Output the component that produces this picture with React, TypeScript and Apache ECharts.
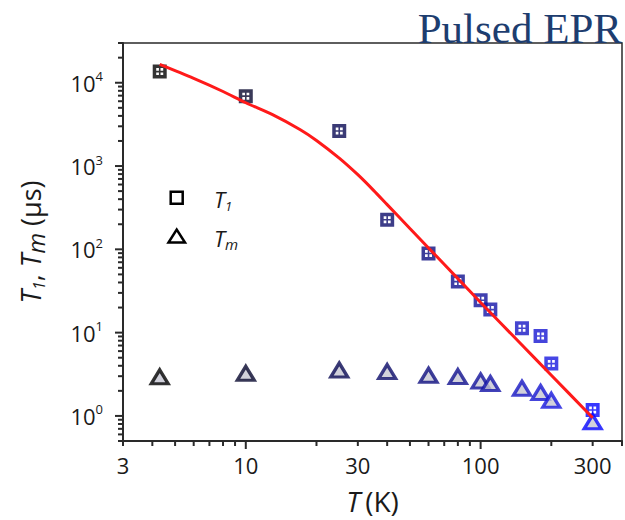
import React, { useEffect, useRef } from 'react';
import * as echarts from 'echarts';

// ---- data ----
const temps = [4.3, 10, 25, 40, 60, 80, 100, 110, 150, 180, 200, 300];
const t1Values = [13600, 6900, 2630, 227, 89, 41, 24.5, 18.9, 11.3, 9.1, 4.25, 1.18];
const tmValues = [2.95, 3.25, 3.56, 3.41, 3.08, 2.97, 2.63, 2.45, 2.15, 1.91, 1.54, 0.85];
const pointColors = [
  '#000000', '#08082e', '#0a0a54', '#0c0c6a', '#0e0e80', '#10108e',
  '#12129c', '#1313a8', '#1616c4', '#1717d2', '#1818de', '#0606ff',
];
// red fit curve, sampled along the drawn line
const fitTemps = [4.3, 6, 8, 10, 13, 17, 20, 25, 30, 35, 40, 50, 60, 80, 100, 150, 200, 300];
const fitValues = [16600, 11270, 7850, 5750, 4145, 2750, 2030, 1245, 787, 511, 344, 178, 104, 44.5, 23, 7.1, 3.08, 0.95];

const xLabelValues = [3, 10, 30, 100, 300];
const xMajorTicks = [10, 100];
const yLabelValues = [1, 10, 100, 1000, 10000];

const X_MIN = 3;
const X_MAX = 400;
const Y_MIN = 0.5;
const Y_MAX = 30000;

const minorX: number[] = [];
[1, 10, 100].forEach((d) => {
  for (let k = 2; k <= 9; k++) {
    const v = k * d;
    if (v >= X_MIN && v <= X_MAX) minorX.push(v);
  }
});
const minorY: number[] = [];
[0.1, 1, 10, 100, 1000, 10000].forEach((d) => {
  for (let k = 2; k <= 9; k++) {
    const v = +(k * d).toPrecision(6);
    if (v >= Y_MIN && v <= Y_MAX) minorY.push(v);
  }
});

const FONT = 'Open Sans';
const FRAME = '#2a2a2a';
const TEXT = '#1a1a1a';

// square with an inner cross: ring + thin cross (nonzero winding)
const squareCross =
  'path://M0 0H14V14H0Z M3.5 3.5V10.5H10.5V3.5Z M6.2 3.5H7.8V10.5H6.2Z M3.5 6.2H10.5V7.8H3.5Z';

const GRID = { left: 123, right: 3, top: 43, bottom: 79 };

// tick marks drawn as small bars placed by the axes' scales
const tickSeries = (values: number[], horizontal: boolean, len: number) => ({
  type: 'scatter',
  silent: true,
  clip: false,
  z: 6,
  symbol: 'rect',
  symbolSize: horizontal ? [2, len] : [len, 2],
  symbolOffset: horizontal ? [0, len / 2] : [-len / 2, 0],
  itemStyle: { color: FRAME, opacity: 1 },
  emphasis: { disabled: true },
  data: values.map((v) => (horizontal ? [v, Y_MIN] : [X_MIN, v])),
});

export default function App() {
  const ref = useRef<HTMLDivElement>(null);

  useEffect(() => {
    if (!ref.current) return;
    const chart = echarts.init(ref.current, undefined, { renderer: 'svg' });

    const option: any = {
      animation: false,
      backgroundColor: '#ffffff',
      grid: { ...GRID, show: true, borderColor: FRAME, borderWidth: 1.5, containLabel: false, outerBoundsMode: 'none' },
      xAxis: {
        type: 'log',
        min: X_MIN,
        max: X_MAX,
        name: '{i|T}{n|(K)}',
        nameLocation: 'middle',
        nameGap: 46,
        nameMoveOverlap: false,
        nameTextStyle: {
          rich: {
            i: { fontFamily: FONT, fontSize: 28, fontStyle: 'italic', color: TEXT, lineHeight: 28 },
            n: { fontFamily: FONT, fontSize: 28, color: TEXT, lineHeight: 28, padding: [0, 0, 0, 5] },
          },
        },
        axisLine: { show: true, lineStyle: { color: FRAME, width: 2 } },
        axisTick: { show: false },
        axisLabel: {
          customValues: xLabelValues,
          margin: 13,
          fontFamily: FONT,
          fontSize: 22,
          color: TEXT,
          formatter: (v: number) => String(Math.round(v)),
        },
        splitLine: { show: false },
        minorTick: { show: false },
      },
      yAxis: {
        type: 'log',
        min: Y_MIN,
        max: Y_MAX,
        name: '{i|T}{s1|1}{n|, }{i|T}{sm|m}{n| (μs)}',
        nameLocation: 'middle',
        nameGap: 76,
        nameMoveOverlap: false,
        nameTextStyle: {
          rich: {
            i: { fontFamily: FONT, fontSize: 27, fontStyle: 'italic', color: TEXT, lineHeight: 34 },
            s1: { fontFamily: FONT, fontSize: 16, fontStyle: 'italic', color: TEXT, verticalAlign: 'bottom', lineHeight: 0 },
            sm: { fontFamily: FONT, fontSize: 24, fontStyle: 'italic', color: TEXT, verticalAlign: 'bottom', lineHeight: 8 },
            n: { fontFamily: FONT, fontSize: 27, color: TEXT, lineHeight: 34 },
          },
        },
        axisLine: { show: true, lineStyle: { color: FRAME, width: 2 } },
        axisTick: { show: false },
        axisLabel: {
          customValues: yLabelValues,
          margin: 20,
          formatter: (v: number) => `{b|10}{s|${Math.round(Math.log10(v))}}`,
          rich: {
            b: { fontFamily: FONT, fontSize: 22, color: TEXT, lineHeight: 26 },
            s: { fontFamily: FONT, fontSize: 13, color: TEXT, verticalAlign: 'top', lineHeight: 14 },
          },
        },
        splitLine: { show: false },
        minorTick: { show: false },
      },
      series: [
        { name: 'xMajorTicks', ...tickSeries(xMajorTicks, true, 8) },
        { name: 'xMinorTicks', ...tickSeries(minorX, true, 5) },
        { name: 'yMajorTicks', ...tickSeries(yLabelValues, false, 8) },
        { name: 'yMinorTicks', ...tickSeries(minorY, false, 5) },
        {
          name: 'T1',
          type: 'scatter',
          symbol: squareCross,
          symbolSize: 14,
          z: 3,
          data: temps.map((t, i) => ({
            value: [t, t1Values[i]],
            itemStyle: { color: pointColors[i] },
          })),
        },
        {
          name: 'Tm',
          type: 'scatter',
          symbol: 'triangle',
          symbolSize: [17, 14],
          z: 3,
          data: temps.map((t, i) => ({
            value: [t, tmValues[i]],
            itemStyle: { color: '#c6c6d2', borderColor: pointColors[i], borderWidth: 3.2 },
          })),
        },
        {
          name: 'fit',
          type: 'line',
          smooth: 0.3,
          showSymbol: false,
          z: 4,
          lineStyle: { color: '#ff1a1a', width: 3 },
          data: fitTemps.map((t, i) => [t, fitValues[i]]),
        },
      ],
      graphic: [
        {
          type: 'text',
          right: 3,
          top: 7,
          style: {
            text: 'Pulsed EPR',
            fontFamily: 'Liberation Serif',
            fontSize: 43,
            fill: '#1d3d6f',
          },
        },
        {
          type: 'rect',
          shape: { x: 170.7, y: 191.8, width: 12, height: 12 },
          style: { fill: '#ffffff', stroke: '#000000', lineWidth: 2.5 },
        },
        {
          type: 'polygon',
          shape: { points: [[168.5, 242.5], [185, 242.5], [176.7, 229.5]] },
          style: { fill: '#ffffff', stroke: '#000000', lineWidth: 2.5 },
        },
        {
          type: 'text',
          x: 214,
          y: 199,
          style: {
            text: '{t|T}{s|1}',
            verticalAlign: 'middle',
            rich: {
              t: { fontFamily: FONT, fontSize: 22, fontStyle: 'italic', fill: TEXT, lineHeight: 26 },
              s: { fontFamily: FONT, fontSize: 13, fontStyle: 'italic', fill: TEXT, verticalAlign: 'bottom', lineHeight: 4 },
            },
          },
        },
        {
          type: 'text',
          x: 214,
          y: 238,
          style: {
            text: '{t|T}{s|m}',
            verticalAlign: 'middle',
            rich: {
              t: { fontFamily: FONT, fontSize: 22, fontStyle: 'italic', fill: TEXT, lineHeight: 26 },
              s: { fontFamily: FONT, fontSize: 15, fontStyle: 'italic', fill: TEXT, verticalAlign: 'bottom', lineHeight: 4 },
            },
          },
        },
      ],
    };

    chart.setOption(option);
    return () => chart.dispose();
  }, []);

  return <div ref={ref} style={{ width: 625, height: 520, position: 'absolute', left: 0, top: 0 }} />;
}
